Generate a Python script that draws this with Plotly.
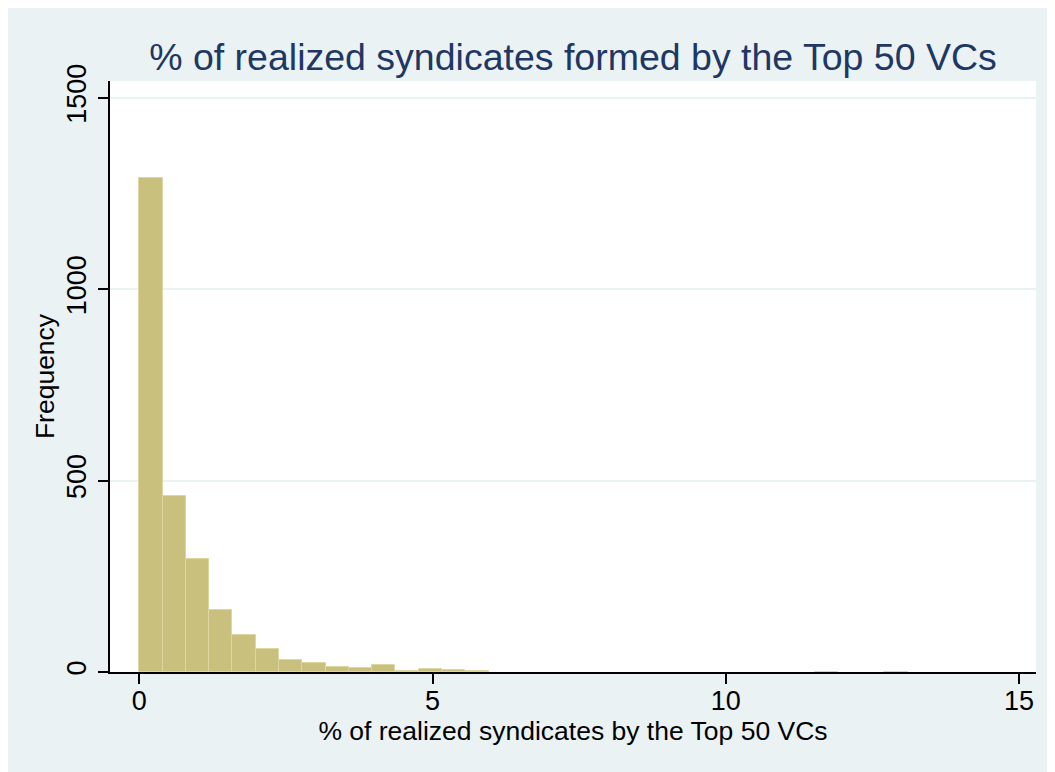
import plotly.graph_objects as go

# ---- Data ----
bin_start = 0.0
bin_width = 0.397
counts = [1290, 460, 295, 162, 97, 60, 32, 23, 14, 11,
          17, 3, 8, 5, 2, 0, 0, 0, 0, 0,
          0, 0, 0, 0, 0, 0, 0, 0, 0, 1,
          0, 0, 1, 0, 0, 0, 0]
x_ticks = [0, 5, 10, 15]
y_ticks = [0, 500, 1000, 1500]

title_text = "% of realized syndicates formed by the Top 50 VCs"
x_title = "% of realized syndicates by the Top 50 VCs"
y_title = "Frequency"

# ---- Colours ----
BG_OUTER = "#EAF2F3"
BAR_FILL = "#C9C07E"
BAR_EDGE = "#DDD6A2"
NAVY = "#1E3764"
FONT = "Liberation Sans, Arial, Helvetica, sans-serif"

# only draw non-empty bins (zero-height bars leave edge artefacts)
bins = [(bin_start + (i + 0.5) * bin_width, c) for i, c in enumerate(counts) if c > 0]

fig = go.Figure(
    go.Bar(
        x=[b[0] for b in bins],
        y=[b[1] for b in bins],
        width=bin_width,
        marker=dict(color=BAR_FILL, line=dict(color=BAR_EDGE, width=1)),
        hovertemplate="%{x:.2f}: %{y}<extra></extra>",
    )
)

# page has an 8px body margin, so the figure is sized to fit the window
W, H = 1047, 764

fig.update_layout(
    width=W,
    height=H,
    margin=dict(l=102, r=W - 1028, t=73, b=H - 664),
    paper_bgcolor=BG_OUTER,
    plot_bgcolor="white",
    showlegend=False,
    bargap=0,
    font=dict(family=FONT, size=27, color="black"),
    title=dict(
        text=title_text,
        font=dict(family=FONT, size=37.5, color=NAVY),
        x=0.5, xref="paper", xanchor="center",
        y=1 - 49 / H, yref="container", yanchor="middle",
    ),
)

fig.update_xaxes(
    range=[-0.5, 15.29],
    tickvals=x_ticks,
    ticks="outside", ticklen=10, tickwidth=1.5, tickcolor="black",
    ticklabelstandoff=-6,
    showline=True, linecolor="black", linewidth=1.5,
    showgrid=False, zeroline=False, automargin=False,
    tickfont=dict(size=27),
    title=dict(text=x_title, font=dict(size=26.5), standoff=5),
)

fig.update_yaxes(
    range=[0, 1544],
    tickvals=y_ticks,
    tickangle=-90,
    ticks="outside", ticklen=10, tickwidth=1.5, tickcolor="black",
    ticklabelstandoff=1,
    showline=True, linecolor="black", linewidth=1.5,
    showgrid=True, gridcolor=BG_OUTER, gridwidth=1.5,
    zeroline=False, automargin=False,
    tickfont=dict(size=27),
    title=dict(text=y_title, font=dict(size=26.5), standoff=0),
)

fig.write_html("out.html")
